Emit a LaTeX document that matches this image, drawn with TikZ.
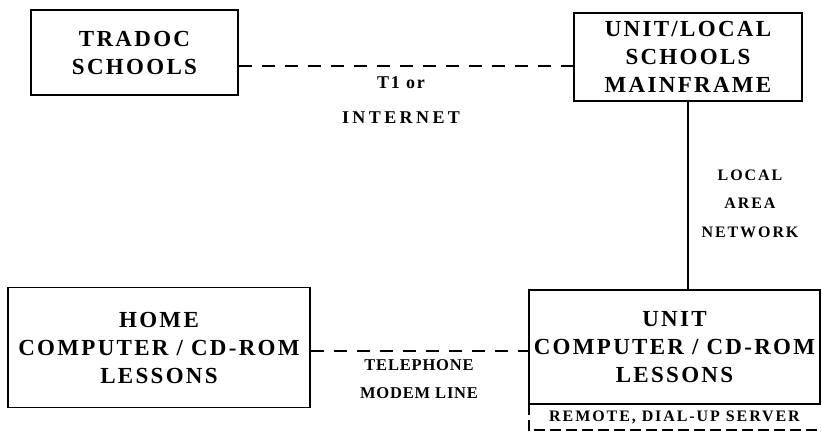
\documentclass[tikz,border=0pt]{standalone}
\usepackage{fontspec}
\setmainfont{Liberation Serif}
\begin{document}
\begin{tikzpicture}[x=1pt,y=-1pt]
\tikzset{
  box/.style={draw, line width=1.8pt, inner sep=0pt, align=center,
    font=\fontsize{23}{28}\selectfont\bfseries\addfontfeatures{LetterSpace=10}},
  lbl/.style={inner sep=0pt, align=center},
  link/.style={line width=1.5pt, dash pattern=on 13pt off 10pt},
  solidlink/.style={line width=1.5pt},
  remoteedge/.style={line width=1.5pt, dash pattern=on 11pt off 5pt}
}
\useasboundingbox (0,0) rectangle (822,434);

\node[box, minimum width=207pt, minimum height=85pt] (tradoc) at (134.5,52.5)
  {TRADOC\\SCHOOLS};
\node[box, minimum width=228pt, minimum height=88pt] (mainframe) at (688,57)
  {UNIT/LOCAL\\SCHOOLS\\MAINFRAME};
\node[box, minimum width=302pt, minimum height=120pt] (home) at (159,347.5)
  {HOME\\COMPUTER / CD-ROM\\LESSONS};
\node[box, minimum width=291pt, minimum height=114pt] (unit) at (674.5,347)
  {UNIT\\COMPUTER / CD-ROM\\LESSONS};
\node[lbl, minimum width=291pt, minimum height=26pt,
  font=\fontsize{16}{17}\selectfont\bfseries\addfontfeatures{LetterSpace=12}]
  (remote) at (674.5,417) {REMOTE, DIAL-UP SERVER};

\node[lbl, font=\fontsize{18}{35}\selectfont\bfseries] (t1) at (401,100.5)
  {{\addfontfeatures{LetterSpace=10}T1 or}\\{\addfontfeatures{LetterSpace=19}INTERNET}};
\node[lbl, font=\fontsize{16.5}{28}\selectfont\bfseries\addfontfeatures{LetterSpace=5}] (tel) at (419,379)
  {TELEPHONE\\MODEM LINE};
\node[lbl, font=\fontsize{16}{28.5}\selectfont\bfseries\addfontfeatures{LetterSpace=12}] (lan) at (750,203.5)
  {LOCAL\\AREA\\NETWORK};

\draw[link] ([yshift=-13.5pt]tradoc.east) -- ([yshift=-9pt]mainframe.west);
\draw[link] ([yshift=-3.5pt]home.east) -- ([yshift=-4pt]unit.west);
\draw[solidlink] (mainframe.south) -- (mainframe.south |- unit.north);
\draw[remoteedge] (remote.north west) -- (remote.south west) -- (remote.south east);
\end{tikzpicture}
\end{document}
